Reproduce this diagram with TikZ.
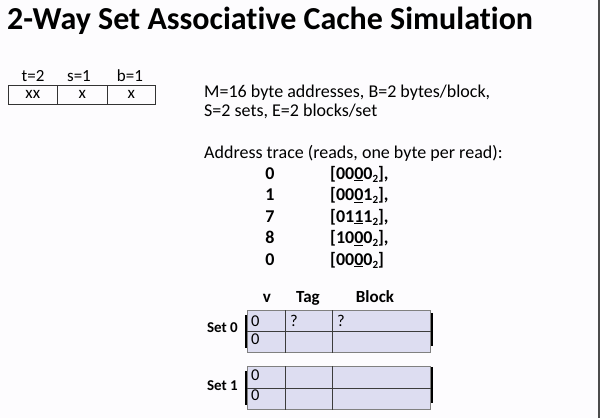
\documentclass[tikz,border=0pt]{standalone}
\usepackage{fontspec}
\setmainfont{Carlito}[Ligatures=NoCommon]
\definecolor{cellfill}{RGB}{221,221,241}
\definecolor{cellline}{RGB}{128,128,128}
\definecolor{divline}{RGB}{60,60,60}
\definecolor{bgcol}{RGB}{253,252,254}
\newcommand{\bitsub}{\raisebox{-0.35ex}{\fontsize{11}{12}\selectfont 2}}
\begin{document}
\begin{tikzpicture}[x=1pt,y=-1pt,
  cell/.style={draw=cellline, fill=cellfill, line width=0.8pt, inner sep=0pt, anchor=north west},
  field/.style={draw=black!80, line width=0.7pt, inner sep=0pt, anchor=north west, font=\fontsize{17}{19}\selectfont},
  fieldlab/.style={anchor=base, inner sep=0pt, font=\fontsize{17}{19}\selectfont},
  body/.style={anchor=base west, inner sep=0pt, font=\fontsize{18}{21}\selectfont},
  tnum/.style={anchor=base, inner sep=0pt, font=\bfseries\fontsize{18}{21}\selectfont},
  tbin/.style={anchor=base west, inner sep=0pt, font=\bfseries\fontsize{18}{21}\selectfont},
  hdr/.style={anchor=base, inner sep=0pt, font=\bfseries\fontsize{17}{20}\selectfont},
  setlab/.style={anchor=east, inner sep=0pt, font=\bfseries\fontsize{15}{18}\selectfont},
  celltxt/.style={anchor=base west, inner sep=0pt, font=\fontsize{16.5}{19}\selectfont},
  divider/.style={draw=divline, line width=1.3pt},
  bracket/.style={draw=black, line width=2.4pt}
]
\useasboundingbox (0,0) rectangle (600,418);
\fill[bgcol] (0,0) rectangle (600,418);
\draw[draw=black!70, line width=1.5pt] (599,0) -- (599,418);

% title
\node[anchor=base west, inner sep=0pt, font=\bfseries\fontsize{32}{38}\selectfont] (title) at (7,29) {2-Way Set Associative Cache Simulation};

% address bit fields
\node[fieldlab] (lt) at (33,81) {t=2};
\node[fieldlab] (ls) at (79,81) {s=1};
\node[fieldlab] (lb) at (130,81) {b=1};
\node[field, minimum width=49pt, minimum height=19pt] (ft) at (8,85) {xx};
\node[field, minimum width=50pt, minimum height=19pt] (fs) at (57,85) {x};
\node[field, minimum width=48pt, minimum height=19pt] (fb) at (107,85) {x};

% parameters
\node[body] (p1) at (204,97) {M=16 byte addresses, B=2 bytes/block,};
\node[body] (p2) at (204,116) {S=2 sets, E=2 blocks/set};
\node[body] (p3) at (204,158) {Address trace (reads, one byte per read):};

% trace
\node[tnum] (n1) at (270,179) {0};
\node[tbin] (b1) at (330,179) {[00\underline{0}0\bitsub],};
\node[tnum] (n2) at (270,200.5) {1};
\node[tbin] (b2) at (330,200.5) {[00\underline{0}1\bitsub],};
\node[tnum] (n3) at (270,222) {7};
\node[tbin] (b3) at (330,222) {[01\underline{1}1\bitsub],};
\node[tnum] (n4) at (270,243.5) {8};
\node[tbin] (b4) at (330,243.5) {[10\underline{0}0\bitsub],};
\node[tnum] (n5) at (270,265) {0};
\node[tbin] (b5) at (330,265) {[00\underline{0}0\bitsub]};

% headers
\node[hdr] (hv) at (267,302) {v};
\node[hdr] (ht) at (308,302) {Tag};
\node[hdr] (hb) at (375,302) {Block};

% set 0
\node[cell, minimum width=38pt, minimum height=21pt] (s0v0) at (247,310) {};
\node[cell, minimum width=47pt, minimum height=21pt] (s0t0) at (285,310) {};
\node[cell, minimum width=98pt, minimum height=21pt] (s0b0) at (332,310) {};
\node[cell, minimum width=38pt, minimum height=21pt] (s0v1) at (247,331) {};
\node[cell, minimum width=47pt, minimum height=21pt] (s0t1) at (285,331) {};
\node[cell, minimum width=98pt, minimum height=21pt] (s0b1) at (332,331) {};
\draw[divider] (s0v0.north east) -- (s0v1.south east);
\draw[divider] (s0t0.north east) -- (s0t1.south east);
\draw[divider] (s0v0.south west) -- (s0b0.south east);
\draw[bracket] ([xshift=-1pt,yshift=-5pt]s0v0.north west) -- ([xshift=-1pt,yshift=5pt]s0v1.south west);
\draw[bracket] ([xshift=1pt,yshift=-3pt]s0b0.north east) -- ([xshift=1pt,yshift=7pt]s0b1.south east);
\node[setlab] (set0) at (238,328) {Set 0};
\node[celltxt] at (251,326) {0};
\node[celltxt] at (251,344) {0};
\node[celltxt] at (290,326) {?};
\node[celltxt] at (337,326) {?};

% set 1
\node[cell, minimum width=38pt, minimum height=22pt] (s1v0) at (247,366) {};
\node[cell, minimum width=47pt, minimum height=22pt] (s1t0) at (285,366) {};
\node[cell, minimum width=98pt, minimum height=22pt] (s1b0) at (332,366) {};
\node[cell, minimum width=38pt, minimum height=21pt] (s1v1) at (247,388) {};
\node[cell, minimum width=47pt, minimum height=21pt] (s1t1) at (285,388) {};
\node[cell, minimum width=98pt, minimum height=21pt] (s1b1) at (332,388) {};
\draw[divider] (s1v0.north east) -- (s1v1.south east);
\draw[divider] (s1t0.north east) -- (s1t1.south east);
\draw[divider] (s1v0.south west) -- (s1b0.south east);
\draw[bracket] ([xshift=-1pt,yshift=-5pt]s1v0.north west) -- ([xshift=-1pt,yshift=5pt]s1v1.south west);
\draw[bracket] ([xshift=1pt,yshift=-1pt]s1b0.north east) -- ([xshift=1pt,yshift=7pt]s1b1.south east);
\node[setlab] (set1) at (238,386) {Set 1};
\node[celltxt] at (251,380) {0};
\node[celltxt] at (251,400) {0};
\end{tikzpicture}
\end{document}
